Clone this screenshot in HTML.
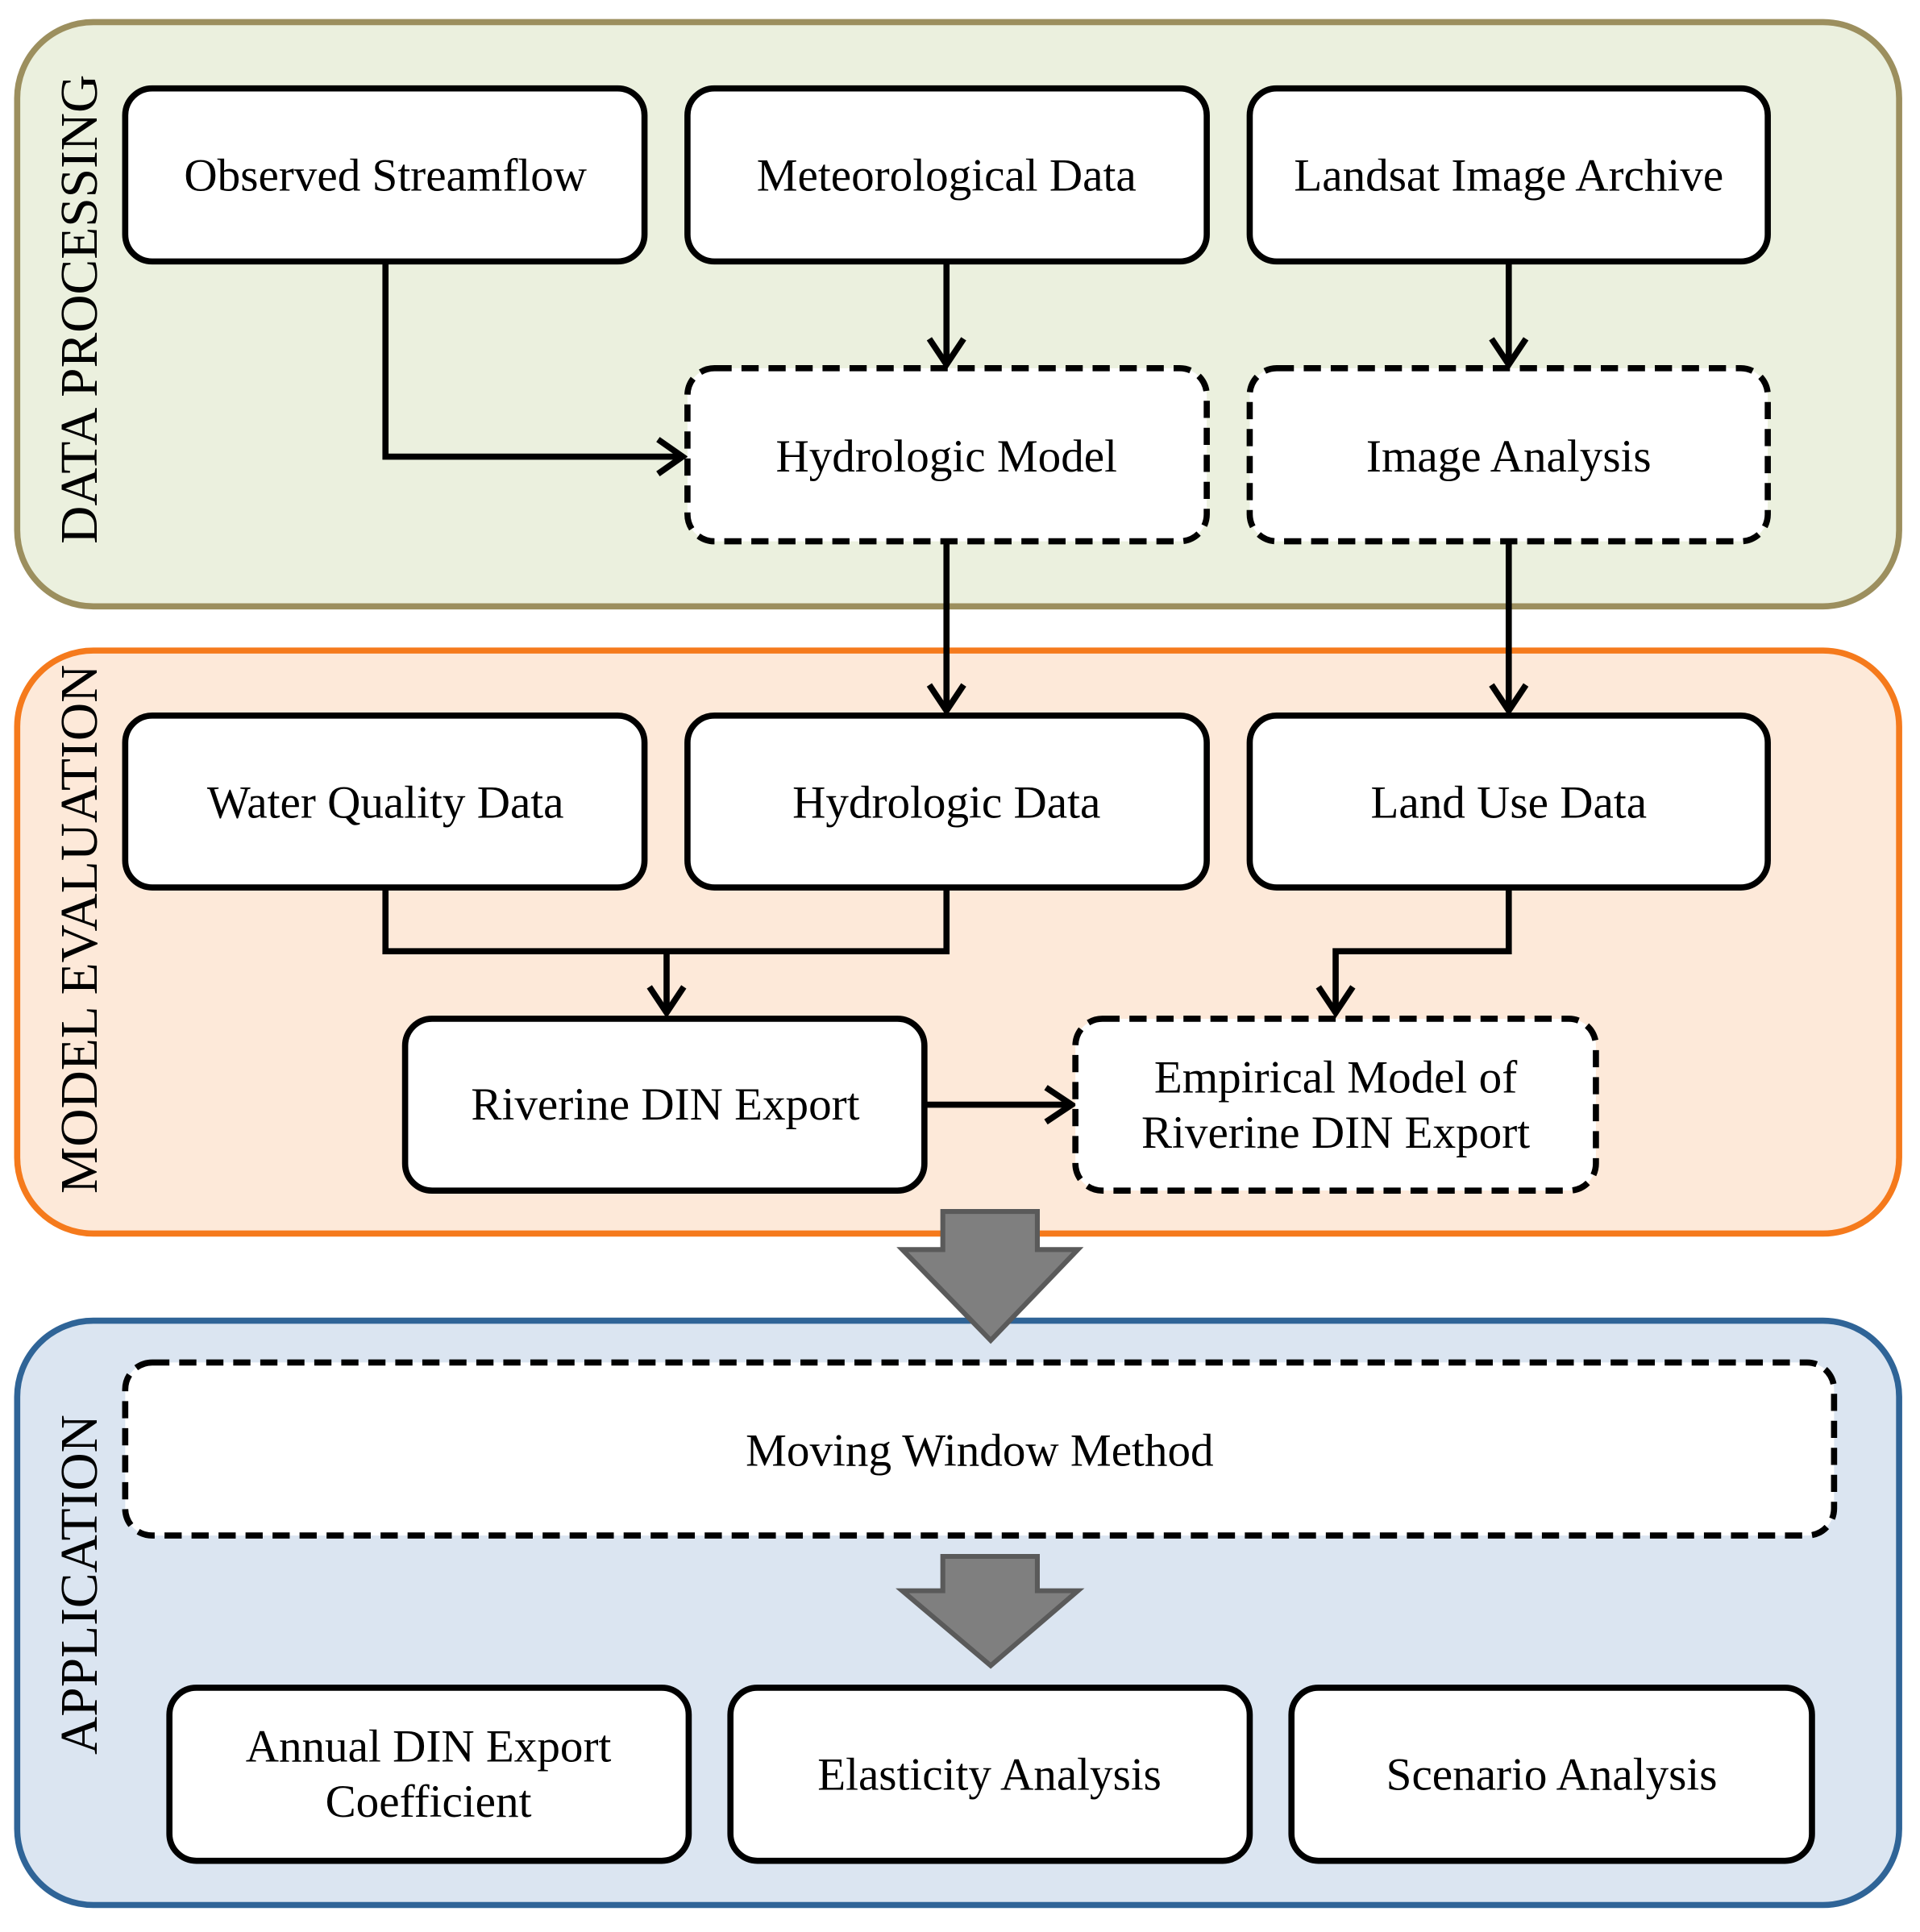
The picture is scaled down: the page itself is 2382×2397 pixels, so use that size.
<!DOCTYPE html>
<html><head><meta charset="utf-8"><style>
html,body{margin:0;padding:0;background:#fff;}
svg{display:block;}
text{font-family:"Liberation Serif",serif;font-size:37.5px;fill:#000;text-anchor:middle;dominant-baseline:central;}
.lab{font-size:43px;}
.b{fill:#fff;stroke:#000;stroke-width:5;}
.d{fill:#fff;stroke:#000;stroke-width:5;stroke-dasharray:14 8;}
.c{fill:none;stroke:#000;stroke-width:5;}
.g{fill:#7f7f7f;stroke:#5a5a5a;stroke-width:4;stroke-linejoin:miter;}
</style></head><body>
<svg width="2382" height="2397" viewBox="0 0 1564 1574" preserveAspectRatio="none" xmlns="http://www.w3.org/2000/svg">
<rect x="0" y="0" width="1564" height="1574" fill="#fff"/>
<rect x="14" y="18" width="1533" height="476" rx="62" fill="#ebf0de" stroke="#9c8f5e" stroke-width="5"/>
<rect x="14" y="530" width="1533" height="475" rx="62" fill="#fde9d9" stroke="#f57a1c" stroke-width="5"/>
<rect x="14" y="1076" width="1533" height="476" rx="62" fill="#dbe5f1" stroke="#2f6497" stroke-width="5"/>
<text class="lab" transform="translate(65,252) rotate(-90)">DATA PROCESSING</text>
<text class="lab" transform="translate(65,757) rotate(-90)">MODEL EVALUATION</text>
<text class="lab" transform="translate(65,1291) rotate(-90)">APPLICATION</text>

<polyline class="c" points="314,213 314,372 554,372"/>
<polyline class="c" points="536,358 556,372 536,386"/>
<line class="c" x1="771" y1="213" x2="771" y2="296"/>
<polyline class="c" points="757,276 771,297 785,276"/>
<line class="c" x1="1229" y1="213" x2="1229" y2="296"/>
<polyline class="c" points="1215,276 1229,297 1243,276"/>
<line class="c" x1="771" y1="441" x2="771" y2="578"/>
<polyline class="c" points="757,558 771,579 785,558"/>
<line class="c" x1="1229" y1="441" x2="1229" y2="578"/>
<polyline class="c" points="1215,558 1229,579 1243,558"/>
<polyline class="c" points="314,723 314,775 771,775 771,723"/>
<line class="c" x1="543" y1="775" x2="543" y2="824"/>
<polyline class="c" points="529,804 543,825 557,804"/>
<polyline class="c" points="1229,723 1229,775 1088,775 1088,824"/>
<polyline class="c" points="1074,804 1088,825 1102,804"/>
<line class="c" x1="753" y1="900" x2="872" y2="900"/>
<polyline class="c" points="852,886 873,900 852,914"/>

<rect class="b" x="102" y="72" width="423" height="141" rx="22"/>
<rect class="b" x="560" y="72" width="423" height="141" rx="22"/>
<rect class="b" x="1018" y="72" width="422" height="141" rx="22"/>
<text x="314" y="143">Observed Streamflow</text>
<text x="771" y="143">Meteorological Data</text>
<text x="1229" y="143">Landsat Image Archive</text>

<rect class="d" x="560" y="300" width="423" height="141" rx="22"/>
<rect class="d" x="1018" y="300" width="422" height="141" rx="22"/>
<text x="771" y="372">Hydrologic Model</text>
<text x="1229" y="372">Image Analysis</text>

<rect class="b" x="102" y="583" width="423" height="140" rx="22"/>
<rect class="b" x="560" y="583" width="423" height="140" rx="22"/>
<rect class="b" x="1018" y="583" width="422" height="140" rx="22"/>
<text x="314" y="654">Water Quality Data</text>
<text x="771" y="654">Hydrologic Data</text>
<text x="1229" y="654">Land Use Data</text>

<rect class="b" x="330" y="830" width="423" height="140" rx="22"/>
<text x="542" y="900">Riverine DIN Export</text>
<rect class="d" x="876" y="830" width="424" height="140" rx="22"/>
<text x="1088" y="878">Empirical Model of</text>
<text x="1088" y="923">Riverine DIN Export</text>

<polygon class="g" points="768,987 845,987 845,1018 878,1018 807,1092 735,1018 768,1018"/>

<rect class="d" x="102" y="1110" width="1392" height="141" rx="22"/>
<text x="798" y="1182">Moving Window Method</text>

<polygon class="g" points="768,1268 845,1268 845,1296 878,1296 807,1357 735,1296 768,1296"/>

<rect class="b" x="138" y="1375" width="423" height="141" rx="22"/>
<rect class="b" x="595" y="1375" width="423" height="141" rx="22"/>
<rect class="b" x="1052" y="1375" width="424" height="141" rx="22"/>
<text x="349" y="1423">Annual DIN Export</text>
<text x="349" y="1468">Coefficient</text>
<text x="806" y="1446">Elasticity Analysis</text>
<text x="1264" y="1446">Scenario Analysis</text>
</svg>
</body></html>
